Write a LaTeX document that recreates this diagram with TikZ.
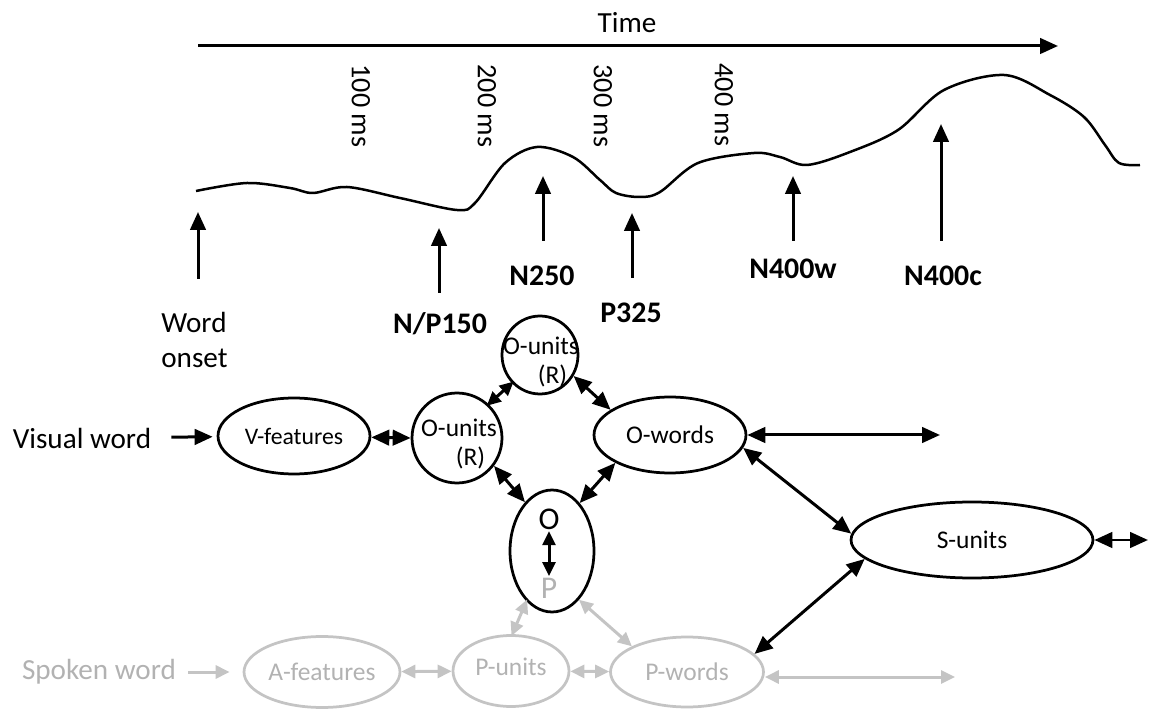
\documentclass[tikz,border=0pt]{standalone}
\usepackage{fontspec}
\setmainfont{Carlito}
\usetikzlibrary{shapes.geometric,arrows.meta}

\definecolor{greyline}{RGB}{196,196,196}
\definecolor{greytext}{RGB}{178,178,178}

\begin{document}
\begin{tikzpicture}[x=0.02cm,y=-0.02cm,
  every node/.style={inner sep=0pt},
  tip/.tip={Triangle[length=0.36cm,width=0.31cm]},
  stip/.tip={Triangle[length=0.28cm,width=0.26cm]},
  arr/.style={line width=0.06cm,-tip},
  darr/.style={line width=0.06cm,tip-tip},
  sdarr/.style={line width=0.06cm,stip-stip},
  garr/.style={line width=0.06cm,draw=greyline,-stip},
  gdarr/.style={line width=0.06cm,draw=greyline,stip-stip},
  unit/.style={ellipse,draw,line width=0.055cm},
  gunit/.style={ellipse,draw=greyline,line width=0.055cm},
  utext/.style={align=center,font=\fontsize{14.5}{17}\selectfont},
  gtext/.style={utext,text=greytext},
  peak/.style={font=\bfseries\fontsize{17}{20}\selectfont},
  ms/.style={rotate=-90,font=\fontsize{16}{19}\selectfont},
  lbl/.style={font=\fontsize{16.6}{20}\selectfont},
]
\useasboundingbox (0,0) rectangle (1150,709);

% time axis
\node[lbl] (time) at (627,23) {Time};
\coordinate (t0) at (198,46);
\coordinate (t1) at (1058,46);
\draw[arr] (t0) -- (t1);

% millisecond marks
\node[ms] (m100) at (361,106) {100 ms};
\node[ms] (m200) at (487,106) {200 ms};
\node[ms] (m300) at (603,106) {300 ms};
\node[ms] (m400) at (724,105) {400 ms};

% ERP waveform
\draw[line width=0.05cm] plot[smooth,tension=0.55] coordinates {
  (196,191) (247,183) (290,188) (313,193) (347,187) (400,198) (457,210)
  (475,203) (505,163) (537,147) (573,157) (600,180) (616,193) (640,197)
  (660,192) (698,163) (754,153) (780,157) (807,165) (850,152) (898,130)
  (944,90) (1004,75) (1050,95) (1084,117) (1105,145) (1119,163) (1140,165)};

% component markers
\coordinate (onsetTail) at (198,279);  \coordinate (onsetTip) at (198,212);
\coordinate (np150Tail) at (439,293);  \coordinate (np150Tip) at (439,228);
\coordinate (n250Tail) at (543,241);   \coordinate (n250Tip) at (543,176);
\coordinate (p325Tail) at (632,278);   \coordinate (p325Tip) at (632,213);
\coordinate (n400wTail) at (793,241);  \coordinate (n400wTip) at (793,176);
\coordinate (n400cTail) at (941,241);  \coordinate (n400cTip) at (941,124);
\draw[arr] (onsetTail) -- (onsetTip);
\draw[arr] (np150Tail) -- (np150Tip);
\draw[arr] (n250Tail) -- (n250Tip);
\draw[arr] (p325Tail) -- (p325Tip);
\draw[arr] (n400wTail) -- (n400wTip);
\draw[arr] (n400cTail) -- (n400cTip);

\node[lbl,align=left,anchor=west] (onset) at (161,340) {Word\\onset};
\node[peak] (np150) at (440,324) {N/P150};
\node[peak] (n250) at (542,276) {N250};
\node[peak] (p325) at (631,313) {P325};
\node[peak] (n400w) at (793,269) {N400w};
\node[peak] (n400c) at (943,276) {N400c};

% orthographic route
\node[lbl] (vw) at (82,438) {Visual word};
\node[unit,minimum width=3.04cm,minimum height=1.52cm] (vf) at (294,436) {};
\node[utext,font=\fontsize{13.5}{16}\selectfont] (vftxt) at (vf) {V-features};
\node[unit,minimum width=1.8cm,minimum height=1.8cm] (ouL) at (457,438) {};
\node[utext] (ouLtxt) at (459,444) {O-units\\\hspace*{0.9em}(R)};
\node[unit,minimum width=1.52cm,minimum height=1.56cm] (ouT) at (540,355) {};
\node[utext] (ouTtxt) at (541,362) {O-units\\\hspace*{0.9em}(R)};
\node[unit,minimum width=3.04cm,minimum height=1.52cm] (ow) at (670,435) {};
\node[utext] (owtxt) at (ow) {O-words};
\node[unit,minimum width=1.68cm,minimum height=2.44cm] (op) at (552,551) {};
\node[font=\fontsize{18}{20}\selectfont] (o) at (549,519) {O};
\node[font=\fontsize{18}{20}\selectfont,text=greytext] (p) at (549,588) {P};
\node[unit,minimum width=4.84cm,minimum height=1.52cm] (su) at (972,540) {};
\node[utext] (sutxt) at (su) {S-units};
\coordinate (owOut) at (940,435);
\coordinate (suOut) at (1148,540);

\draw[arr,shorten <=0.4cm,shorten >=0.08cm] (vw) -- (vf);
\draw[darr] (vf) -- (ouL.180);
\draw[sdarr,shorten <=-0.05cm,shorten >=-0.05cm] (ouL.47) -- (ouT.225);
\draw[darr] (ouT.-32) -- (ow.157);
\draw[darr] (ouL.-37) -- (op.119);
\draw[darr] (ow.207) -- (op.60);
\draw[sdarr,shorten <=0.03cm,shorten >=0.03cm] (o) -- (p);
\draw[darr] (ow.east) -- (owOut);
\draw[darr] (ow.-10) -- (su.177);
\draw[darr] (su.east) -- (suOut);

% phonological route
\node[lbl,text=greytext] (sw) at (99,672) {Spoken word};
\node[gunit,minimum width=3.12cm,minimum height=1.42cm] (af) at (322,672) {};
\node[gtext] (aftxt) at (af) {A-features};
\node[gunit,minimum width=2.32cm,minimum height=1.42cm] (pu) at (511,671) {};
\node[gtext] (putxt) at (511,667) {P-units};
\node[gunit,minimum width=3.06cm,minimum height=1.4cm] (pw) at (687,672) {};
\node[gtext] (pwtxt) at (pw) {P-words};
\coordinate (pwOut) at (955,677);

\draw[garr,shorten <=0.24cm,shorten >=0.26cm] (sw) -- (af);
\draw[gdarr] (af) -- (pu);
\draw[gdarr] (pu) -- (pw);
\draw[gdarr,shorten <=-0.04cm,shorten >=-0.04cm] (pu.88) -- (op.243);
\draw[gdarr] (op.-61) -- (pw.155);
\draw[gdarr] (pw.east |- pwOut) -- (pwOut);
\draw[darr] (su.190) -- (pw.15);
\end{tikzpicture}
\end{document}
